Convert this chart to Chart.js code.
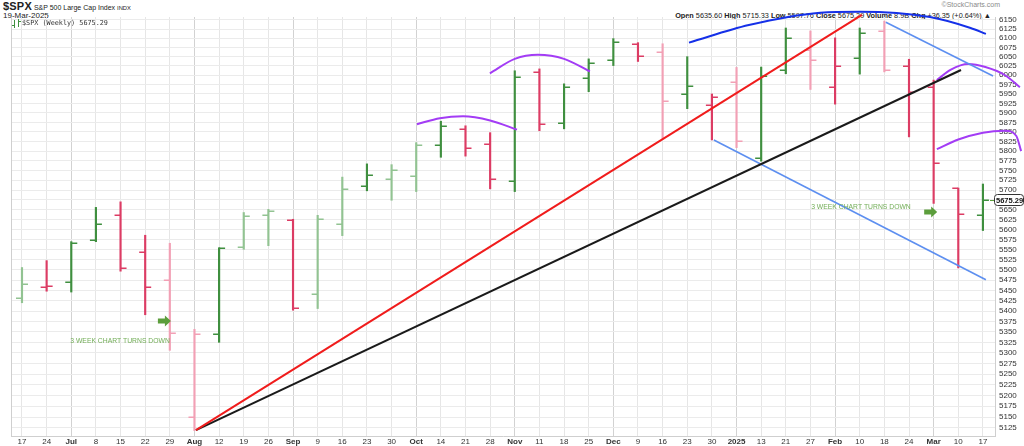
<!DOCTYPE html>
<html>
<head>
<meta charset="utf-8">
<script src="https://cdn.jsdelivr.net/npm/chart.js@4.4.1/dist/chart.umd.min.js"></script>
<style>
  html, body { margin: 0; padding: 0; background: #fff; }
  #wrap { position: relative; width: 1024px; height: 446px; overflow: hidden; font-family: "Liberation Sans", Arial, sans-serif; color: #222; }
  #wrap canvas { position: absolute; left: 0; top: 0; z-index: 1; }
  .hd { position: absolute; white-space: nowrap; z-index: 0; font-size: 8px; line-height: 10px; }
  .mono { font-family: "DejaVu Sans Mono", monospace; font-size: 6.8px; color: #333; }
</style>
</head>
<body>
<div id="wrap">
  <div class="hd" style="left:3px;top:1px;font-size:7px;"><b style="font-size:11px;letter-spacing:0.2px">$SPX</b> S&amp;P 500 Large Cap Index <span style="font-size:5.8px">INDX</span></div>
  <div class="hd" style="left:3px;top:11px;">19-Mar-2025</div>
  <div class="hd" style="right:24px;top:0px;color:#8a8a8a;font-size:7px;">©StockCharts.com</div>
  <div class="hd" style="right:33px;top:11px;font-size:7.3px;"><b>Open</b> 5635.60 <b>High</b> 5715.33 <b>Low</b> 5597.76 <b>Close</b> 5675.29 <b>Volume</b> 8.9B <b>Chg</b> +36.35 (+0.64%) ▲</div>
  <div class="hd mono" style="left:22px;top:18px;z-index:2;">$SPX (Weekly) 5675.29</div>
  <canvas id="chart" width="1024" height="446"></canvas>
</div>

<script>
// week labels along the bottom (one per weekly bar)
const weekLabels = ['17','24','Jul','8','15','22','29','Aug','12','19','26','Sep','9','16','23','30','Oct','14','21','28',
  'Nov','11','18','25','Dec','9','16','23','30','2025','13','21','27','Feb','10','18','24','Mar','10','17'];
const monthLabels = ['Jul','Aug','Sep','Oct','Nov','Dec','2025','Feb','Mar'];

// weekly OHLC, Jun 17 2024 .. Mar 17 2025
const opens  = [5431,5459,5471,5573,5638,5545,5476,5151,5345,5557,5637,5624,5442,5615,5711,5727,5737,5816,5857,5819,
                5723,6008,5874,5992,6040,6083,6063,5950,5920,5982,5782,6014,6067,5969,6046,6121,6026,5968,5705,5635.6];
const highs  = [5506,5523,5570,5656,5670,5586,5566,5356,5555,5643,5651,5626,5636,5733,5767,5765,5822,5878,5866,5848,
                6012,6017,5977,6044,6099,6088,6085,6050,5950,6021,6022,6128,6120,6101,6128,6147,6043,5987,5705,5715.33];
const lows   = [5420,5448,5446,5570,5497,5391,5306,5119,5325,5551,5560,5402,5406,5585,5698,5674,5696,5784,5787,5703,
                5696,5853,5858,5956,6026,6037,5832,5911,5829,5809,5774,6004,5962,5923,6003,6009,5837,5666,5505,5597.76];
const closes = [5465,5460,5567,5615,5505,5459,5347,5344,5554,5634,5648,5408,5626,5703,5738,5751,5815,5865,5808,5729,
                5995,5870,5969,6032,6090,6051,5931,5971,5942,5827,5997,6101,6041,6026,6115,6013,5955,5770,5639,5675.29];
// which bars are drawn in the paler shade
const paleBars = [1,0,0,0,0,0,1,1,0,1,1,0,1,1,0,1,1,0,0,0,0,0,0,0,0,0,1,0,0,1,0,0,1,0,0,1,0,0,0,0];

const yTicks = [];
for (let v = 5125; v <= 6150; v += 25) yTicks.push(v);
const lastClose = 5675.29;

// drawn trend lines and arcs (x = week index, y = index level)
const redTrend   = [{x: 7.06, y: 5120}, {x: 34.09, y: 6164}];
const blackTrend = [{x: 7.06, y: 5120}, {x: 38.11, y: 6014}];
const blueUpper  = [{x: 35.06, y: 6144}, {x: 39.41, y: 5998}];
const blueLower  = [{x: 28.08, y: 5829}, {x: 39.12, y: 5476}];
const arcOct     = [{x: 16.03, y: 5870}, {x: 16.96, y: 5886}, {x: 17.9, y: 5891}, {x: 19.0, y: 5880}, {x: 20.09, y: 5856}];
const arcNov     = [{x: 18.99, y: 6005}, {x: 20.0, y: 6044}, {x: 20.94, y: 6055}, {x: 22.0, y: 6044}, {x: 23.05, y: 6010}];
const arcTop     = [{x: 27.07, y: 6088}, {x: 29.5, y: 6136}, {x: 32.4, y: 6170}, {x: 34.0, y: 6173}, {x: 36.85, y: 6158}, {x: 38.5, y: 6128}, {x: 39.12, y: 6112}];
const arcMarHi   = [{x: 37.13, y: 5987}, {x: 37.7, y: 6015}, {x: 38.4, y: 6030}, {x: 39.1, y: 6022}, {x: 39.9, y: 6000}, {x: 40.5, y: 5968}];
const arcMarLo   = [{x: 37.13, y: 5805}, {x: 38.0, y: 5830}, {x: 39.0, y: 5848}, {x: 39.9, y: 5853}, {x: 40.35, y: 5840}, {x: 40.55, y: 5800}];

// notes: text position and arrow position
const notes = [
  {text: '3 WEEK CHART TURNS DOWN', x: 3.98, y: 5328, ax: 5.8, ay: 5376},
  {text: '3 WEEK CHART TURNS DOWN', x: 34.05, y: 5657, ax: 36.9, ay: 5644}
];

const GREEN = '#3f8f3f', GREEN_PALE = '#92c392', RED = '#dc3c64', RED_PALE = '#f2a0b5';
const X_MIN = -0.446, X_MAX = 39.49;

function barColor(i) {
  const up = i === 0 ? closes[0] >= opens[0] : closes[i] >= closes[i - 1];
  if (up) return paleBars[i] ? GREEN_PALE : GREEN;
  return paleBars[i] ? RED_PALE : RED;
}

const ohlcTicks = {
  id: 'ohlcTicks',
  beforeDatasetsDraw(chart) {
    const {ctx, scales: {x, y}, chartArea} = chart;
    ctx.save();
    // left frame line
    ctx.strokeStyle = '#cfcfcf';
    ctx.lineWidth = 1;
    ctx.beginPath();
    ctx.moveTo(chartArea.left + 0.5, chartArea.top);
    ctx.lineTo(chartArea.left + 0.5, chartArea.bottom);
    ctx.stroke();
    // open / close ticks
    ctx.lineWidth = 1.5;
    opens.forEach((o, i) => {
      const px = x.getPixelForValue(i);
      ctx.strokeStyle = barColor(i);
      const yo = Math.round(y.getPixelForValue(o)) + 0.25;
      const yc = Math.round(y.getPixelForValue(closes[i])) + 0.25;
      ctx.beginPath();
      ctx.moveTo(px - 6, yo); ctx.lineTo(px, yo);
      ctx.moveTo(px, yc); ctx.lineTo(px + 6, yc);
      ctx.stroke();
    });
    ctx.restore();
  },
  afterDatasetsDraw(chart) {
    const {ctx, scales: {x, y}, chartArea} = chart;
    ctx.save();
    // notes and arrows
    ctx.font = '6.8px "Liberation Sans", Arial, sans-serif';
    ctx.textAlign = 'center';
    ctx.textBaseline = 'middle';
    notes.forEach(n => {
      ctx.fillStyle = '#72ad57';
      ctx.fillText(n.text, x.getPixelForValue(n.x), y.getPixelForValue(n.y));
      const ax = x.getPixelForValue(n.ax), ay = y.getPixelForValue(n.ay);
      ctx.fillStyle = '#5c9e3c';
      ctx.beginPath();
      ctx.moveTo(ax - 7, ay - 2.5);
      ctx.lineTo(ax, ay - 2.5);
      ctx.lineTo(ax, ay - 5.5);
      ctx.lineTo(ax + 6, ay);
      ctx.lineTo(ax, ay + 5.5);
      ctx.lineTo(ax, ay + 2.5);
      ctx.lineTo(ax - 7, ay + 2.5);
      ctx.closePath();
      ctx.fill();
    });
    // legend icon
    ctx.strokeStyle = GREEN;
    ctx.lineWidth = 1;
    ctx.beginPath();
    ctx.moveTo(14.5, 20); ctx.lineTo(14.5, 28);
    ctx.moveTo(12, 25.5); ctx.lineTo(14.5, 25.5);
    ctx.moveTo(18.5, 19); ctx.lineTo(18.5, 27);
    ctx.moveTo(18.5, 21.5); ctx.lineTo(21, 21.5);
    ctx.stroke();
    // last price marker on the axis
    const yl = Math.round(y.getPixelForValue(lastClose));
    ctx.strokeStyle = '#5c9e3c';
    ctx.beginPath();
    ctx.moveTo(chartArea.right - 5, yl + 0.5); ctx.lineTo(chartArea.right, yl + 0.5);
    ctx.stroke();
    ctx.fillStyle = '#fff';
    ctx.fillRect(chartArea.right - 0.5, yl - 5.5, 29, 11);
    ctx.strokeStyle = '#333';
    ctx.lineWidth = 1;
    ctx.beginPath();
    ctx.roundRect(chartArea.right - 0.5, yl - 5.5, 29, 11, 3);
    ctx.stroke();
    ctx.fillStyle = '#111';
    ctx.font = 'bold 7.5px "Liberation Sans", Arial, sans-serif';
    ctx.textAlign = 'left';
    ctx.fillText(lastClose.toFixed(2), chartArea.right + 1, yl + 0.5);
    ctx.restore();
  }
};

const lineSet = (data, color, width, curve) => ({
  type: 'line',
  data,
  borderColor: color,
  borderWidth: width,
  pointRadius: 0,
  fill: false,
  clip: false,
  order: 0,
  cubicInterpolationMode: curve ? 'monotone' : 'default',
  tension: 0
});

new Chart(document.getElementById('chart'), {
  type: 'bar',
  data: {
    datasets: [
      {
        type: 'bar',
        data: highs.map((h, i) => ({x: i, y: [lows[i], h]})),
        backgroundColor: ctx => barColor(ctx.dataIndex),
        barThickness: 1.5,
        grouped: false,
        order: 10
      },
      lineSet(redTrend, '#f01c1c', 2, false),
      lineSet(blackTrend, '#1a1a1a', 2, false),
      lineSet(blueUpper, '#5d8ff0', 1.6, false),
      lineSet(blueLower, '#5d8ff0', 1.6, false),
      lineSet(arcOct, '#a33cf5', 2, true),
      lineSet(arcNov, '#a33cf5', 2, true),
      lineSet(arcTop, '#1530e8', 2, true),
      lineSet(arcMarHi, '#a33cf5', 2, true),
      lineSet(arcMarLo, '#a33cf5', 2, true)
    ]
  },
  options: {
    responsive: false,
    animation: false,
    devicePixelRatio: 1,
    layout: {padding: {left: 11, top: 17, right: 0, bottom: 0}},
    plugins: {legend: {display: false}, tooltip: {enabled: false}},
    scales: {
      x: {
        type: 'linear',
        offset: false,
        // range set here (not as min/max options) so the arcs that run past the last week are still drawn
        afterBuildTicks: axis => {
          axis.min = X_MIN;
          axis.max = X_MAX;
          axis.ticks = weekLabels.map((_, i) => ({value: i}));
        },
        afterFit: axis => { axis.height = 10; axis.paddingLeft = 0; axis.paddingRight = 0; },
        grid: {
          offset: false,
          color: ctx => monthLabels.includes(weekLabels[ctx.tick ? ctx.tick.value : 0]) ? '#d2d2d2' : '#e6e6e6',
          drawTicks: false
        },
        border: {display: true, color: '#cfcfcf'},
        ticks: {
          padding: 1,
          maxRotation: 0,
          autoSkip: false,
          color: '#333',
          font: ctx => ({family: '"Liberation Sans", Arial, sans-serif', size: 8,
            weight: ctx.tick && monthLabels.includes(weekLabels[ctx.tick.value]) ? 'bold' : 'normal'}),
          callback: v => weekLabels[v]
        }
      },
      y: {
        type: 'logarithmic',
        position: 'right',
        min: 5106.7,
        max: 6158.2,
        afterBuildTicks: axis => { axis.ticks = yTicks.map(v => ({value: v})); },
        afterFit: axis => { axis.width = 29; axis.paddingTop = 0; axis.paddingBottom = 0; },
        grid: {color: '#ebebeb', drawTicks: false},
        border: {display: true, color: '#cfcfcf'},
        ticks: {
          padding: 4,
          autoSkip: false,
          color: '#333',
          font: {family: '"Liberation Sans", Arial, sans-serif', size: 8},
          callback: v => String(v)
        }
      }
    }
  },
  plugins: [ohlcTicks]
});
</script>
</body>
</html>
